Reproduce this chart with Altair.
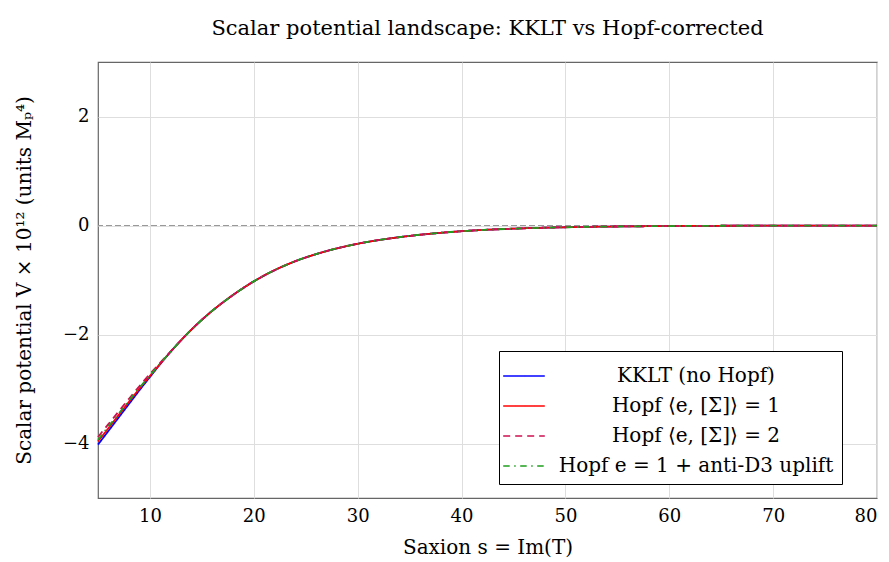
import altair as alt
import pandas as pd

s_vals = [5, 6, 7, 8, 9, 10, 11, 12, 13, 14, 15, 16, 17, 18, 19, 20, 22, 24, 26, 28,
          30, 33, 36, 40, 45, 50, 55, 60, 65, 70, 75, 80]
tail = [-1.91, -1.73, -1.565, -1.415, -1.275, -1.145, -1.025, -0.82, -0.655, -0.525, -0.42,
        -0.335, -0.24, -0.17, -0.105, -0.058, -0.032, -0.018, -0.01, -0.005, -0.003, -0.002, -0.001]
v_kklt = [-4.02, -3.77, -3.52, -3.27, -3.02, -2.78, -2.54, -2.315, -2.105] + tail
v_hopf1 = [-3.96, -3.72, -3.475, -3.23, -2.99, -2.76, -2.535, -2.315, -2.105] + tail
v_hopf2 = [-3.88, -3.645, -3.41, -3.175, -2.945, -2.725, -2.515, -2.31, -2.105] + tail
v_uplift = [-3.93, -3.69, -3.45, -3.21, -2.975, -2.75, -2.53, -2.315, -2.105] + tail

names = ["KKLT (no Hopf)", "Hopf ⟨e, [Σ]⟩ = 1", "Hopf ⟨e, [Σ]⟩ = 2", "Hopf e = 1 + anti-D3 uplift"]
colors = ["#0000ff", "#ff0000", "#cc1050", "#1f9e1f"]
dashes = [[1, 0], [1, 0], [7, 5], [6.5, 4.5, 1.5, 4.5]]
series_vals = [v_kklt, v_hopf1, v_hopf2, v_uplift]

rows = []
for n, vals in zip(names, series_vals):
    for s, v in zip(s_vals, vals):
        rows.append({"series": n, "s": s, "V": v})
df = pd.DataFrame(rows)

FONT = "DejaVu Serif"

x = alt.X("s:Q", scale=alt.Scale(domain=[5, 80], nice=False, zero=False),
          axis=alt.Axis(values=[10, 20, 30, 40, 50, 60, 70, 80], title="Saxion s = Im(T)"))
y = alt.Y("V:Q", scale=alt.Scale(domain=[-5, 3], nice=False),
          axis=alt.Axis(values=[-4, -2, 0, 2], title="Scalar potential V × 10¹² (units Mₚ⁴)"))
color = alt.Color("series:N", scale=alt.Scale(domain=names, range=colors),
                  legend=alt.Legend(title=None, orient="none", legendX=401, legendY=289,
                                    symbolType="M-1.3,0H1.3", symbolSize=1024, symbolStrokeWidth=1.6,
                                    labelFontSize=20, labelFont=FONT, labelAlign="center",
                                    labelOffset=155, labelLimit=400,
                                    rowPadding=3, padding=8,
                                    strokeColor="#000000", fillColor="#ffffff"))
dash = alt.StrokeDash("series:N", scale=alt.Scale(domain=names, range=dashes), legend=None)

zero = alt.Chart(pd.DataFrame({"z": [0]})).mark_rule(color="#999999", strokeDash=[6, 3], strokeWidth=1).encode(
    y=alt.Y("z:Q", scale=alt.Scale(domain=[-5, 3], nice=False)))

layers = [zero]
for n in names:
    layers.append(
        alt.Chart(df).transform_filter(alt.datum.series == n)
        .mark_line(strokeWidth=1.8, interpolate="monotone")
        .encode(x=x, y=y, color=color, strokeDash=dash)
    )

chart = alt.layer(*layers).properties(
    width=779, height=436,
    title=alt.Title("Scalar potential landscape: KKLT vs Hopf-corrected", font=FONT, fontSize=21,
                    fontWeight="normal", offset=23, anchor="middle"),
    autosize=alt.AutoSizeParams(type="none"),
    padding={"left": 98, "top": 62, "right": 12, "bottom": 64},
).configure_axis(
    labelFont=FONT, labelFontSize=18, titleFont=FONT, titleFontSize=20, titleFontWeight="normal",
    labelColor="#000000", titleColor="#000000",
    gridColor="#dedede", gridWidth=1, domain=False, ticks=False, labelPadding=9,
).configure_axisY(titlePadding=28).configure_axisX(titlePadding=12).configure_view(
    stroke="#666666", strokeWidth=1.2
)

chart.save("out.html", embed_options={"renderer": "svg", "actions": False})
